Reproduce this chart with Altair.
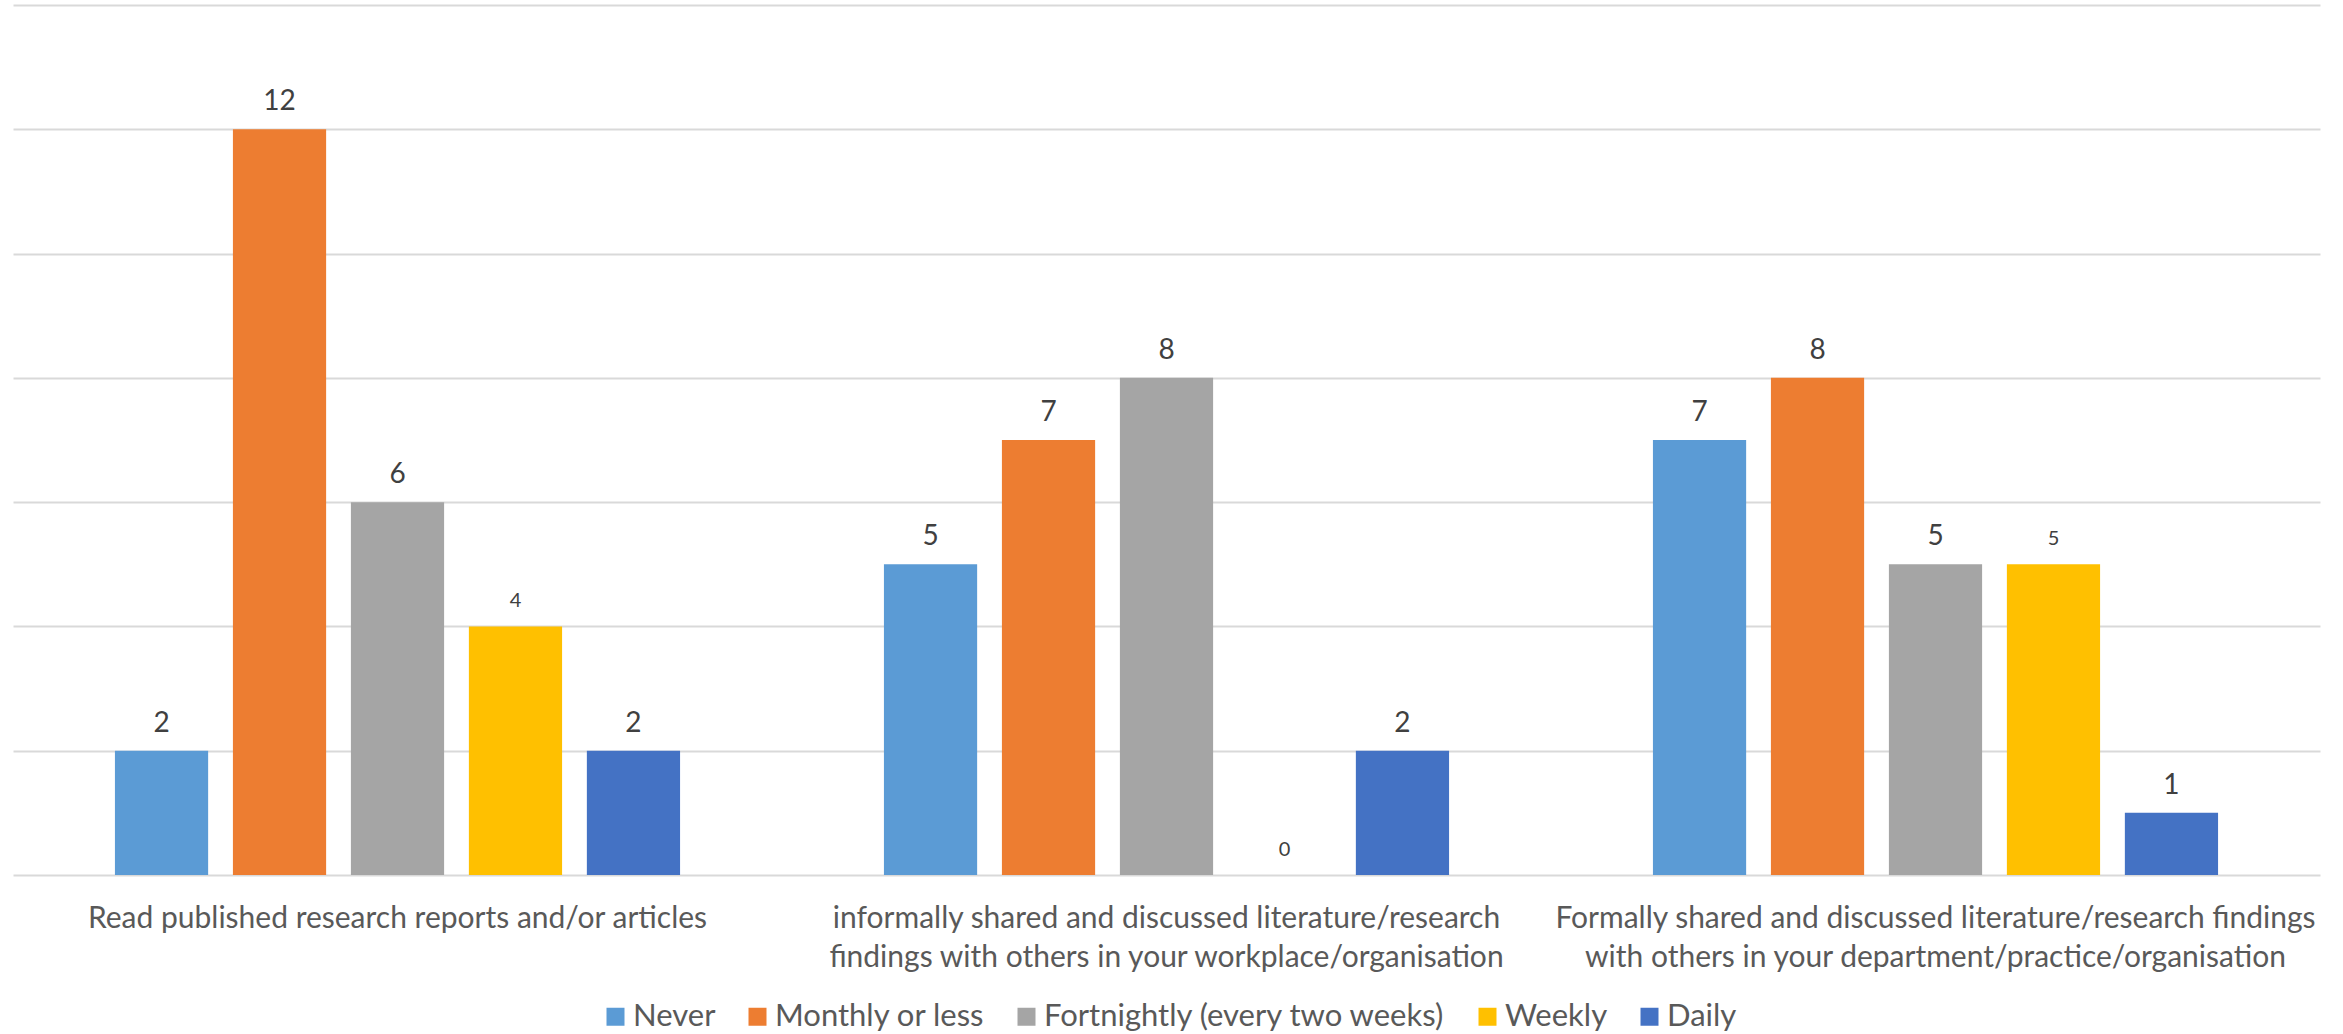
import altair as alt
import pandas as pd

categories = [
    "Read published research reports and/or articles",
    "informally shared and discussed literature/research\nfindings with others in your workplace/organisation",
    "Formally shared and discussed literature/research findings\nwith others in your department/practice/organisation",
]
series = ["Never", "Monthly or less", "Fortnightly (every two weeks)", "Weekly", "Daily"]
colors = ["#5B9BD5", "#ED7D31", "#A5A5A5", "#FFC000", "#4472C4"]
never = [2, 5, 7]
monthly = [12, 7, 8]
fortnightly = [6, 8, 5]
weekly = [4, 0, 5]
daily = [2, 2, 1]
y_ticks = [0, 2, 4, 6, 8, 10, 12, 14]

rows = []
for s, vals in zip(series, [never, monthly, fortnightly, weekly, daily]):
    for c, v in zip(categories, vals):
        rows.append({"category": c, "series": s, "value": v})
df = pd.DataFrame(rows)

FONT = "Lato"

x_enc = alt.X(
    "category:N", sort=categories,
    scale=alt.Scale(paddingInner=0, paddingOuter=0),
    axis=alt.Axis(
        title=None, labelExpr="split(datum.label, '\\n')", labelFontSize=30,
        labelColor="#595959", labelFont=FONT, labelPadding=28, ticks=False,
        tickSize=0, domain=False, labelLimit=0, labelLineHeight=39, labelAngle=0,
        grid=False,
    ),
)
xo_enc = alt.XOffset(
    "series:N", sort=series,
    scale=alt.Scale(paddingInner=0.21, paddingOuter=0.864),
)
y_enc = alt.Y(
    "value:Q",
    scale=alt.Scale(domain=[0, 14], nice=False, zero=True),
    axis=alt.Axis(
        values=y_ticks, labels=False, ticks=False, domain=False, title=None,
        grid=True, gridColor="#d9d9d9", gridWidth=2,
    ),
)

bars = alt.Chart(df).mark_bar().encode(
    x=x_enc, xOffset=xo_enc, y=y_enc,
    color=alt.Color(
        "series:N", sort=series,
        scale=alt.Scale(domain=series, range=colors),
        legend=alt.Legend(
            title=None, orient="none", legendX=587, legendY=996,
            direction="horizontal", columns=5, symbolType="square",
            symbolSize=324, symbolStrokeWidth=0, symbolOpacity=1,
            labelFontSize=31, labelColor="#595959", labelFont=FONT,
            labelOffset=2, columnPadding=26, labelLimit=0, padding=0,
        ),
    ),
)

labels = alt.Chart(df).mark_text(
    baseline="alphabetic", dy=-19, color="#404040", font=FONT
).encode(
    x=x_enc, xOffset=xo_enc, y=y_enc,
    text=alt.Text("value:Q"),
    size=alt.condition(alt.datum.series == "Weekly", alt.value(20), alt.value(28)),
)

chart = alt.layer(bars, labels).properties(
    width=2307, height=870,
    autosize=alt.AutoSizeParams(type="none"),
    padding={"left": 13, "top": 5, "right": 23, "bottom": 159},
    background="white",
).configure_view(stroke=None)

chart.save("out.html", embed_options={"renderer": "svg", "actions": False})
